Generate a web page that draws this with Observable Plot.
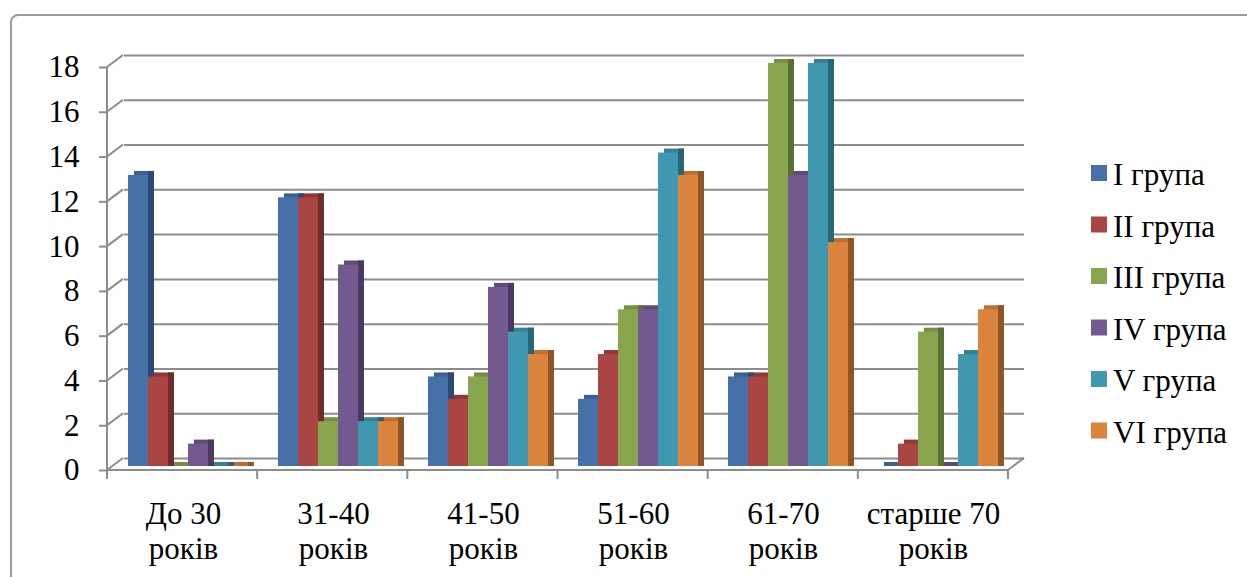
<!DOCTYPE html>
<html><head><meta charset="utf-8">
<script src="https://cdn.jsdelivr.net/npm/d3@7"></script>
<script src="https://cdn.jsdelivr.net/npm/@observablehq/plot@0.6"></script>
<style>
body{margin:0;background:#fff;}
#wrap{position:relative;width:1247px;height:577px;overflow:hidden;background:#fff;}
#frame{position:absolute;left:10px;top:14px;width:1300px;height:700px;border:2px solid #9b9b9b;border-radius:8px;box-sizing:border-box;}
#chart{position:absolute;left:0;top:0;}
</style></head><body>
<div id="wrap"><div id="frame"></div><div id="chart"></div></div>
<script>
const categories = ["До 30 років", "31-40 років", "41-50 років", "51-60 років", "61-70 років", "старше 70 років"];
const categoryLines = ["До 30\nроків", "31-40\nроків", "41-50\nроків", "51-60\nроків", "61-70\nроків", "старше 70\nроків"];
const groups = ["I група", "II група", "III група", "IV група", "V група", "VI група"];
const groupI   = [13, 12, 4, 3, 4, 0];
const groupII  = [4, 12, 3, 5, 4, 1];
const groupIII = [0, 2, 4, 7, 18, 6];
const groupIV  = [1, 9, 8, 7, 13, 0];
const groupV   = [0, 2, 6, 14, 18, 5];
const groupVI  = [0, 2, 5, 13, 10, 7];
const yTicks = [0, 2, 4, 6, 8, 10, 12, 14, 16, 18];

const frontColors = ["#4571A8", "#A94542", "#89A54E", "#72598F", "#3F98AF", "#DB843D"];
const topColors   = ["#3A6191", "#8E3936", "#768F42", "#5F4A79", "#338196", "#BD6F31"];
const sideColors  = ["#2C4A72", "#702C2A", "#5B6E33", "#4A3A5F", "#276676", "#8F5526"];
const FONT = "Liberation Serif, Tinos, Times New Roman, DejaVu Serif, serif";

const seriesValues = [groupI, groupII, groupIII, groupIV, groupV, groupVI];
const data = [];
groups.forEach((g, j) => categories.forEach((c, i) => data.push({category: c, group: g, value: seriesValues[j][i]})));

const marks = [
  Plot.ruleY(yTicks, {y: d => d, dx: 16, dy: -8, stroke: "#8c8c8c", strokeWidth: 2})
];
groups.forEach((g, j) => {
  const d = data.filter(r => r.group === g);
  marks.push(Plot.barY(d, {fx: "category", x: "group", y: "value", fill: topColors[j], dx: 6, insetTop: -4}));
  marks.push(Plot.barY(d, {fx: "category", x: "group", y: "value", fill: sideColors[j], dx: 6, insetTop: -4, insetLeft: 14}));
  marks.push(Plot.barY(d, {fx: "category", x: "group", y: "value", fill: frontColors[j]}));
});
marks.push(Plot.axisY(yTicks, {tickSize: 9, tickPadding: 20, dy: 4, fontSize: 31, fontFamily: FONT, stroke: "#8c8c8c", strokeWidth: 2, fill: "black", label: null}));
marks.push(Plot.text(categories, {fx: d => d, text: (d, i) => categoryLines[i], frameAnchor: "bottom", lineAnchor: "top", dy: 33, fontSize: 31, lineHeight: 1.13, fontFamily: FONT, fill: "black"}));

const plot = Plot.plot({
  width: 1247, height: 577,
  marginLeft: 107, marginRight: 239, marginTop: 63, marginBottom: 111,
  style: {fontFamily: FONT, fontSize: "30px", background: "transparent", overflow: "visible"},
  fx: {domain: categories, padding: 0, axis: null, label: null},
  x: {domain: groups, paddingInner: 0, paddingOuter: 0.75, align: 2/3, axis: null, label: null},
  y: {domain: [0, 18], axis: null, label: null},
  marks
});
document.getElementById("chart").appendChild(plot);

// 3D frame decorations using the plot's own scales
const ys = plot.scale("y");
const yf = d3.scaleLinear(ys.domain, ys.range);
const x0 = 107, x1 = 1247 - 239;
const svg = d3.select(plot);
const g = svg.append("g").attr("stroke", "#8c8c8c").attr("stroke-width", 2).attr("fill", "none");
g.append("line").attr("x1", x0).attr("x2", x0).attr("y1", yf(18) + 4).attr("y2", yf(0) + 4);
yTicks.forEach(v => {
  g.append("line").attr("x1", x0).attr("y1", yf(v) + 4).attr("x2", x0 + 16).attr("y2", yf(v) - 8);
});
g.append("line").attr("x1", x0).attr("y1", yf(0) + 4).attr("x2", x1).attr("y2", yf(0) + 4);
g.append("line").attr("x1", x1).attr("y1", yf(0) + 4).attr("x2", x1 + 16).attr("y2", yf(0) - 8);
const step = (x1 - x0) / categories.length;
d3.range(categories.length + 1).forEach(k => {
  g.append("line").attr("x1", x0 + k * step).attr("x2", x0 + k * step).attr("y1", yf(0) + 4).attr("y2", yf(0) + 13);
});

// legend
const lg = svg.append("g").attr("text-anchor", "start");
groups.forEach((name, j) => {
  lg.append("rect").attr("x", 1091).attr("y", 165 + 51.5 * j).attr("width", 16).attr("height", 16).attr("fill", frontColors[j]);
  lg.append("text").attr("x", 1113).attr("y", 185 + 51.5 * j).attr("font-size", 31).attr("font-family", FONT).attr("text-anchor", "start").attr("fill", "black").text(name);
});
</script>
</body></html>
